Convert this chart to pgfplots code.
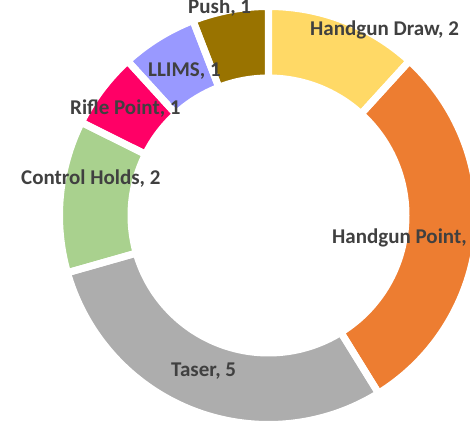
\documentclass[border=0pt]{standalone}
\usepackage{pgfplots}
\pgfplotsset{compat=1.18}
\usepackage{pgfplotstable}
\usepackage{fontspec}
\setmainfont{Carlito}

\definecolor{slice0}{HTML}{FFD966}
\definecolor{slice1}{HTML}{ED7D31}
\definecolor{slice2}{HTML}{ADADAD}
\definecolor{slice3}{HTML}{A9D18E}
\definecolor{slice4}{HTML}{FF0066}
\definecolor{slice5}{HTML}{9999FF}
\definecolor{slice6}{HTML}{997300}
\definecolor{labelgray}{HTML}{404040}

% slices clockwise from 12 o'clock; labx/laby = base west of the label
\pgfplotstableread[col sep=comma]{
label,value,labx,laby
Handgun Draw,2,41.5,179.5
Handgun Point,5,63.5,-28.5
Taser,5,-97.5,-161
Control Holds,2,-247.5,30.5
Rifle Point,1,-198.5,100.5
LLIMS,1,-120.5,138.5
Push,1,-80.5,201.5
}\donutdata

\def\Ro{209}   % outer radius
\def\Ri{137.5} % inner radius

\begin{document}
\begin{tikzpicture}
% total and start/end angles of the slices
\pgfplotstablegetrowsof{\donutdata}
\pgfmathtruncatemacro\nlast{\pgfplotsretval-1}
\xdef\total{0}
\foreach \i in {0,...,\nlast}{
  \pgfplotstablegetelem{\i}{value}\of\donutdata
  \pgfmathsetmacro\t{\total+\pgfplotsretval}
  \xdef\total{\t}
}
\xdef\cur{90}
\foreach \i in {0,...,\nlast}{
  \pgfplotstablegetelem{\i}{value}\of\donutdata
  \expandafter\xdef\csname val\i\endcsname{\pgfplotsretval}
  \pgfmathsetmacro\e{\cur-\pgfplotsretval/\total*360}
  \expandafter\xdef\csname sa\i\endcsname{\cur}
  \expandafter\xdef\csname ea\i\endcsname{\e}
  \xdef\cur{\e}
  \pgfplotstablegetelem{\i}{label}\of\donutdata
  \expandafter\xdef\csname lab\i\endcsname{\pgfplotsretval}
  \pgfplotstablegetelem{\i}{labx}\of\donutdata
  \expandafter\xdef\csname lx\i\endcsname{\pgfplotsretval}
  \pgfplotstablegetelem{\i}{laby}\of\donutdata
  \expandafter\xdef\csname ly\i\endcsname{\pgfplotsretval}
}
\begin{axis}[
    hide axis,
    scale only axis,
    width=470pt, height=422pt,
    xmin=-268.5, xmax=201.5,
    ymin=-206.5, ymax=215.5,
    clip=true,
]
\pgfplotsinvokeforeach{0,...,6}{
  \fill[slice#1]
    (axis cs:{\Ro*cos(\csname sa#1\endcsname)},{\Ro*sin(\csname sa#1\endcsname)})
    arc[start angle=\csname sa#1\endcsname, end angle=\csname ea#1\endcsname, radius=\Ro pt]
    -- (axis cs:{\Ri*cos(\csname ea#1\endcsname)},{\Ri*sin(\csname ea#1\endcsname)})
    arc[start angle=\csname ea#1\endcsname, end angle=\csname sa#1\endcsname, radius=\Ri pt]
    -- cycle;
}
\pgfplotsinvokeforeach{0,...,6}{
  \draw[white, line width=7pt, line join=miter]
    (axis cs:{\Ro*cos(\csname sa#1\endcsname)},{\Ro*sin(\csname sa#1\endcsname)})
    arc[start angle=\csname sa#1\endcsname, end angle=\csname ea#1\endcsname, radius=\Ro pt]
    -- (axis cs:{\Ri*cos(\csname ea#1\endcsname)},{\Ri*sin(\csname ea#1\endcsname)})
    arc[start angle=\csname ea#1\endcsname, end angle=\csname sa#1\endcsname, radius=\Ri pt]
    -- cycle;
}
\pgfplotsinvokeforeach{0,...,6}{
  \node[anchor=base west, inner sep=0pt, text=labelgray,
        font=\fontsize{21}{25}\selectfont\bfseries]
    at (axis cs:\csname lx#1\endcsname,\csname ly#1\endcsname)
    {\csname lab#1\endcsname, \csname val#1\endcsname};
}
\end{axis}
\pgfresetboundingbox
\useasboundingbox (current axis.south west) rectangle (current axis.north east);
\end{tikzpicture}
\end{document}
